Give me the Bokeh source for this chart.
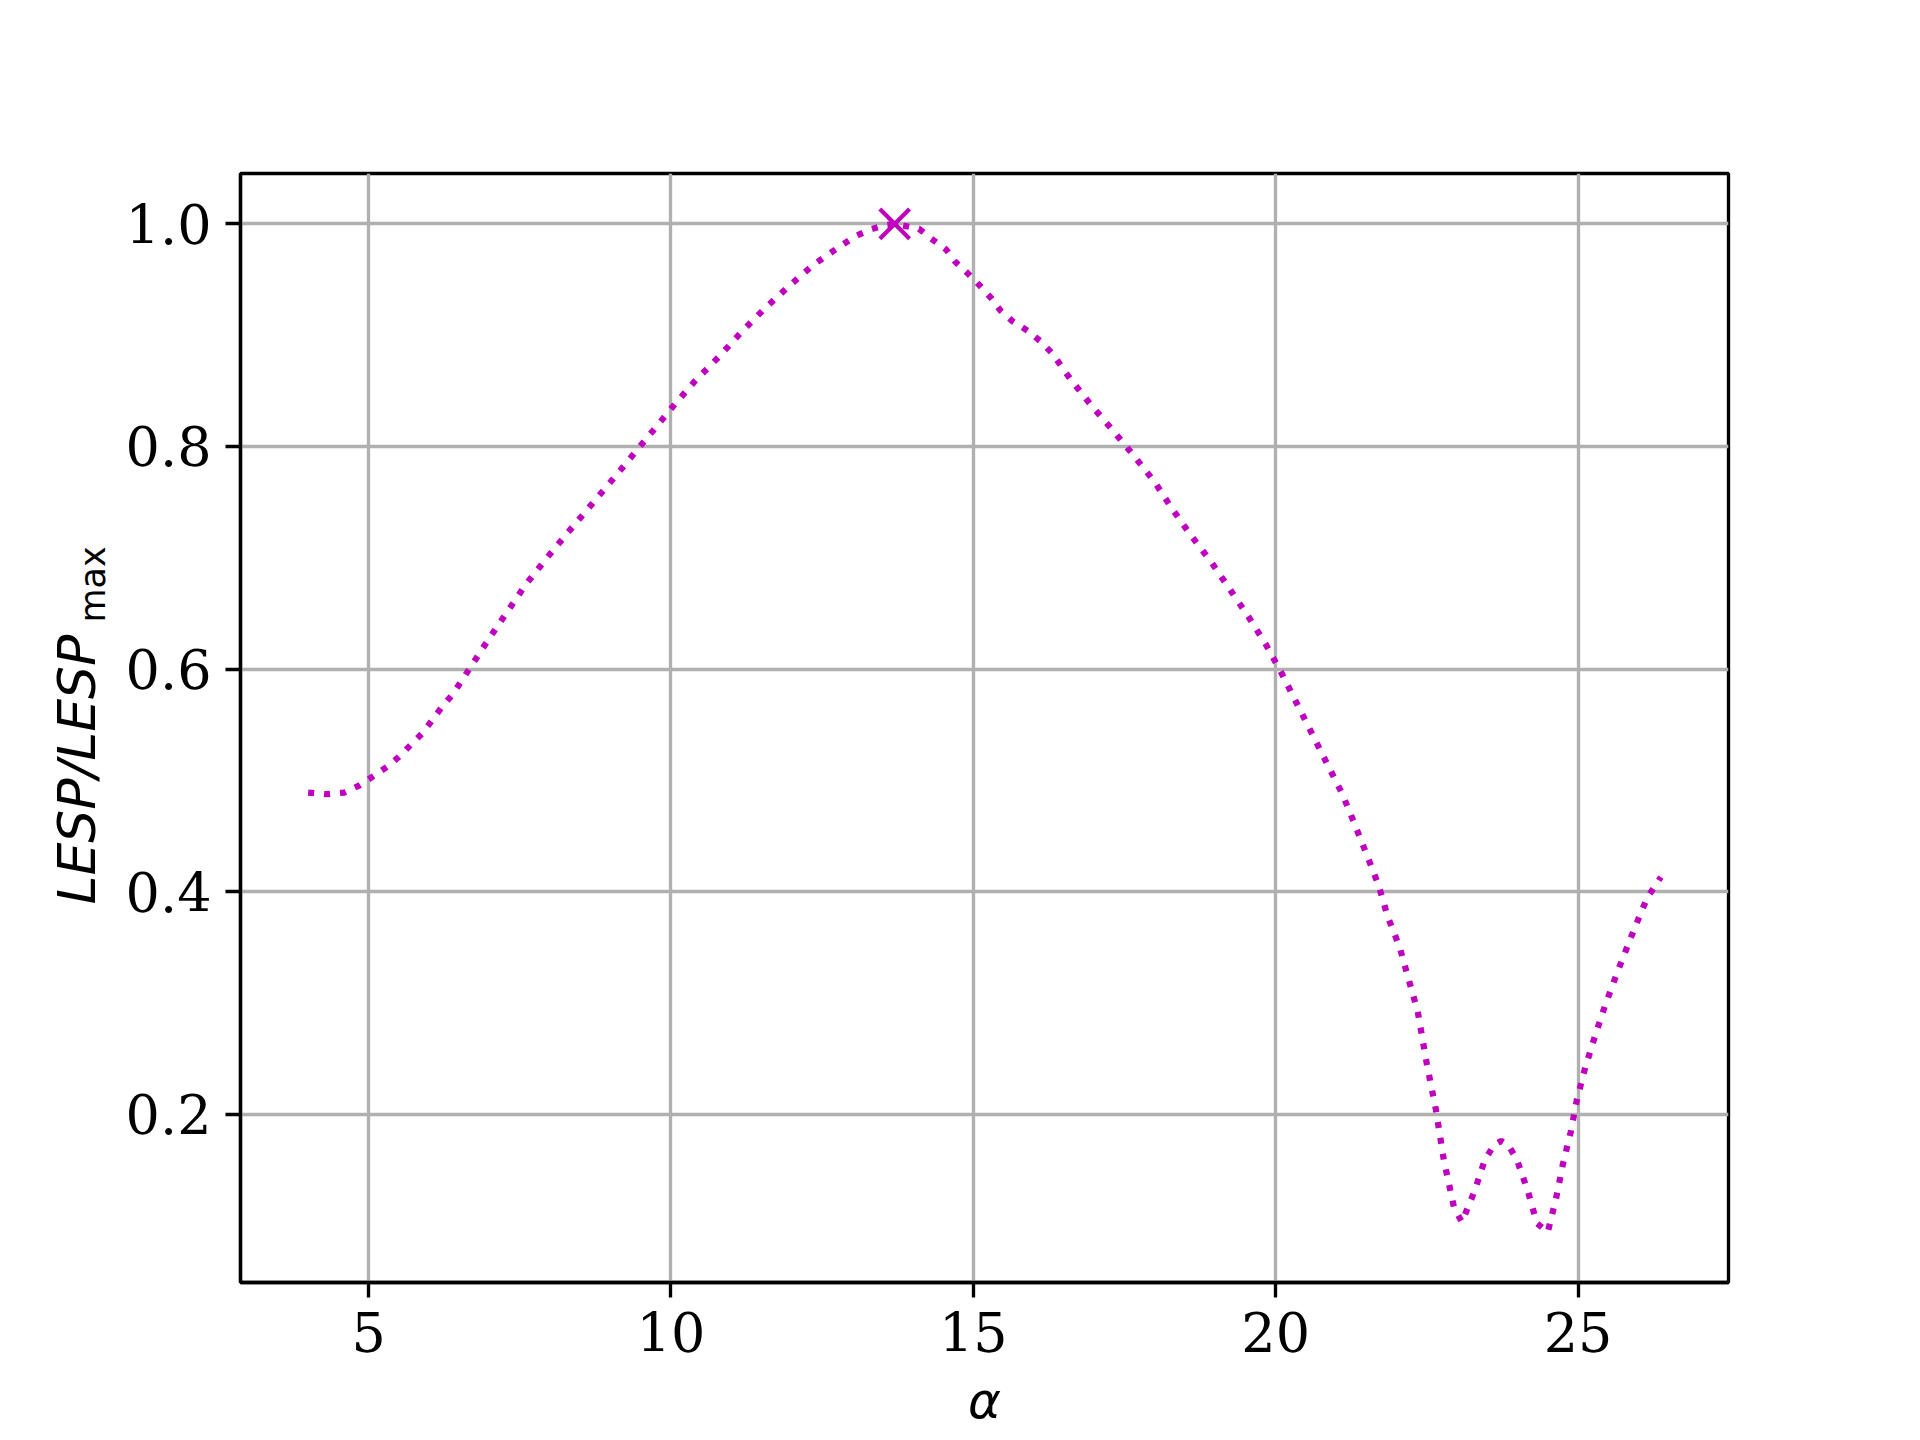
from bokeh.plotting import figure
from bokeh.models import Range1d, FixedTicker, NumeralTickFormatter, Title
from bokeh.embed import file_html
from bokeh.resources import INLINE

# Angle of attack (alpha) and normalised LESP values
alpha = [4.0, 4.3, 4.6, 4.85, 5.06, 5.3, 5.5, 5.7, 5.9, 6.05, 6.2, 6.4, 6.7,
         7.0, 7.3, 7.6, 7.95, 8.3, 8.65, 9.0, 9.35, 9.7, 10.05, 10.4, 10.8,
         11.15, 11.55, 11.95, 12.35, 12.8, 13.05, 13.3, 13.55, 13.7, 14.1,
         14.3, 14.55, 14.7, 14.9, 15.1, 15.3, 15.45, 15.65, 15.9, 16.1, 16.3,
         16.6, 16.95, 17.3, 17.65, 18.0, 18.3, 18.6, 18.95, 19.25, 19.55,
         19.85, 20.1, 20.35, 20.6, 20.85, 21.1, 21.3, 21.5, 21.7, 21.85,
         22.05, 22.2, 22.35, 22.5, 22.65, 22.78, 22.95, 23.08, 23.29, 23.46,
         23.61, 23.73, 23.85, 23.99, 24.17, 24.32, 24.5, 24.64, 24.75, 24.88,
         24.98, 25.12, 25.28, 25.45, 25.64, 25.84, 26.04, 26.15, 26.37]
lesp = [0.489, 0.4875, 0.489, 0.4955, 0.503, 0.512, 0.521, 0.532, 0.543,
        0.554, 0.565, 0.578, 0.603, 0.628, 0.652, 0.676, 0.700, 0.723, 0.7455,
        0.768, 0.791, 0.814, 0.837, 0.859, 0.881, 0.902, 0.924, 0.944, 0.963,
        0.980, 0.989, 0.995, 0.999, 1.0, 0.9957, 0.987, 0.977, 0.966, 0.956,
        0.945, 0.933, 0.922, 0.9125, 0.904, 0.895, 0.884, 0.861, 0.837, 0.815,
        0.792, 0.768, 0.743, 0.720, 0.695, 0.671, 0.647, 0.621, 0.596, 0.569,
        0.542, 0.515, 0.488, 0.4615, 0.434, 0.406, 0.378, 0.350, 0.321, 0.292,
        0.245, 0.204, 0.159, 0.116, 0.103, 0.131, 0.159, 0.172, 0.176, 0.172,
        0.159, 0.131, 0.102, 0.094, 0.125, 0.155, 0.184, 0.2126, 0.242, 0.270,
        0.298, 0.326, 0.354, 0.381, 0.395, 0.413]

peak_alpha = [13.7]
peak_lesp = [1.0]

x_ticks = [5, 10, 15, 20, 25]
y_ticks = [0.2, 0.4, 0.6, 0.8, 1.0]

COLOR = "#bf00bf"

xmin, xmax = min(alpha), max(alpha)
ymin, ymax = min(lesp), max(lesp)
xpad = 0.05 * (xmax - xmin)
ypad = 0.05 * (ymax - ymin)

p = figure(frame_width=1488, frame_height=1109,
           min_border_left=240, min_border_right=176,
           min_border_top=173, min_border_bottom=150,
           x_range=Range1d(xmin - xpad, xmax + xpad),
           y_range=Range1d(ymin - ypad, ymax + ypad),
           output_backend="svg", toolbar_location=None)

p.background_fill_color = "white"
p.border_fill_color = "white"
p.outline_line_color = "black"
p.outline_line_width = 3.33
p.outline_line_alpha = 1.0

p.line(alpha, lesp, line_color=COLOR, line_width=6.25, line_dash="6 10",
       line_cap="butt")
p.scatter(peak_alpha, peak_lesp, marker="x", size=42, line_color=COLOR,
          line_width=4.2)

for ax in (p.xaxis[0], p.yaxis[0]):
    ax.major_label_text_font = "DejaVu Serif"
    ax.major_label_text_font_size = "54px"
    ax.major_label_text_color = "black"
    ax.major_tick_out = 15
    ax.major_tick_in = 0
    ax.major_tick_line_width = 3.33
    ax.major_tick_line_color = "black"
    ax.minor_tick_line_color = None
    ax.axis_line_width = 3.33
    ax.axis_line_color = "black"
    ax.major_label_standoff = 14
    ax.axis_label_text_font = "DejaVu Sans"
    ax.axis_label_text_font_style = "italic"
    ax.axis_label_text_font_size = "50px"
    ax.axis_label_text_color = "black"

p.xaxis.ticker = FixedTicker(ticks=x_ticks)
p.yaxis.ticker = FixedTicker(ticks=y_ticks)
p.xaxis.formatter = NumeralTickFormatter(format="0")
p.yaxis.formatter = NumeralTickFormatter(format="0.0")
p.xaxis.axis_label = "α"
p.xaxis.axis_label_standoff = 17

# y-axis label: upright subscript next to the axis, italic main part outside
ylab_sub = Title(text="max", align="left", offset=660, standoff=20,
                 text_font="DejaVu Sans", text_font_style="normal",
                 text_font_size="35px", text_color="black")
ylab_main = Title(text="LESP/LESP", align="left", offset=378, standoff=-92,
                  text_font="DejaVu Sans", text_font_style="italic",
                  text_font_size="52px", text_color="black")
p.add_layout(ylab_sub, "left")
p.add_layout(ylab_main, "left")

p.xgrid.ticker = FixedTicker(ticks=x_ticks)
p.ygrid.ticker = FixedTicker(ticks=y_ticks)
for g in (p.xgrid[0], p.ygrid[0]):
    g.grid_line_color = "#b0b0b0"
    g.grid_line_width = 3.33

open("out.html", "w").write(file_html(p, INLINE))
